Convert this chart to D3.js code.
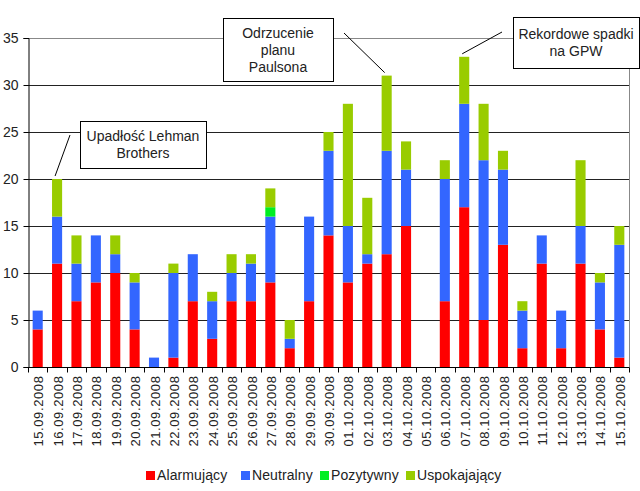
<!DOCTYPE html>
<html><head><meta charset="utf-8">
<script src="https://cdn.jsdelivr.net/npm/d3@7"></script>
<style>body{margin:0;background:#fff;} text{font-family:Arial,"Liberation Sans",sans-serif;}</style>
</head><body>
<svg id="c" width="640" height="491"></svg>
<script>
const dates = ["15.09.2008","16.09.2008","17.09.2008","18.09.2008","19.09.2008","20.09.2008","21.09.2008","22.09.2008","23.09.2008","24.09.2008","25.09.2008","26.09.2008","27.09.2008","28.09.2008","29.09.2008","30.09.2008","01.10.2008","02.10.2008","03.10.2008","04.10.2008","05.10.2008","06.10.2008","07.10.2008","08.10.2008","09.10.2008","10.10.2008","11.10.2008","12.10.2008","13.10.2008","14.10.2008","15.10.2008"];
const alarmujacy =    [4,11,7,9,10,4,0,1,7,3,7,7,9,2,7,14,9,11,12,15,0,7,17,5,13,2,11,2,11,4,1];
const neutralny =     [2,5,4,5,2,5,1,9,5,4,3,4,7,1,9,9,6,1,11,6,0,13,11,17,8,4,3,4,4,5,12];
const pozytywny =     [0,0,0,0,0,0,0,0,0,0,0,0,1,0,0,0,0,0,0,0,0,0,0,0,0,0,0,0,0,0,0];
const uspokajajacy =  [0,4,3,0,2,1,0,1,0,1,2,1,2,2,0,2,13,6,8,3,0,2,5,6,2,1,0,0,7,1,2];
const seriesNames = ["Alarmujący","Neutralny","Pozytywny","Uspokajający"];
const seriesColors = ["#ff0000","#3366ff","#00ee22","#99cc00"];
const yTicks = [0,5,10,15,20,25,30,35];
const annotations = [
  {lines:["Upadłość Lehman","Brothers"], date:"16.09.2008", value:20},
  {lines:["Odrzucenie","planu","Paulsona"], date:"03.10.2008", value:31},
  {lines:["Rekordowe spadki","na GPW"], date:"07.10.2008", value:33}
];

const svg = d3.select("#c");
const m = {l:28, t:38, r:629, b:367};
const x = d3.scaleBand().domain(dates).range([m.l, m.r]).paddingInner(0.48).paddingOuter(0.24);
const xb = d3.scaleBand().domain(dates).range([m.l, m.r]);
const y = d3.scaleLinear().domain([0,35]).range([m.b, m.t]);

// gridlines
svg.append("g").selectAll("line").data(yTicks.filter(d=>d>0 && d<35)).join("line")
  .attr("x1", m.l).attr("x2", m.r).attr("y1", d=>Math.round(y(d))+0.5).attr("y2", d=>Math.round(y(d))+0.5)
  .attr("stroke","#222").attr("stroke-width",1);
// frame top/right
svg.append("path").attr("d",`M${m.l},${Math.round(y(35))+0.5}H${m.r+0.5}V${m.b}`)
  .attr("fill","none").attr("stroke","#888");

// stacked bars
const rows = dates.map((d,i)=>({date:d, "Alarmujący":alarmujacy[i], "Neutralny":neutralny[i], "Pozytywny":pozytywny[i], "Uspokajający":uspokajajacy[i]}));
const stack = d3.stack().keys(seriesNames)(rows);
svg.append("g").selectAll("g").data(stack).join("g")
  .attr("fill",(d,i)=>seriesColors[i])
  .selectAll("rect").data(d=>d).join("rect")
  .attr("x", d=>x(d.data.date)).attr("width", x.bandwidth())
  .attr("y", d=>y(d[1])).attr("height", d=>y(d[0])-y(d[1]));

// y axis
const ya = svg.append("g").attr("transform",`translate(${m.l+0.5},0)`)
  .call(d3.axisLeft(y).tickValues(yTicks).tickSize(5).tickPadding(5));
ya.select(".domain").attr("stroke","#000");
ya.selectAll("text").attr("font-size",14).attr("fill","#222").attr("font-family","Arial, 'Liberation Sans', sans-serif");

// x axis
const xa = svg.append("g").attr("transform",`translate(0,${m.b+0.5})`);
xa.append("line").attr("x1",m.l).attr("x2",m.r+0.5).attr("stroke","#000");
xa.selectAll("line.t").data(d3.range(dates.length+1)).join("line").attr("class","t")
  .attr("x1",i=>Math.round(m.l + i*xb.step())+0.5).attr("x2",i=>Math.round(m.l + i*xb.step())+0.5)
  .attr("y1",0).attr("y2",5).attr("stroke","#000");
xa.selectAll("text").data(dates).join("text")
  .attr("transform", d=>`translate(${xb(d)+xb.bandwidth()/2+1},8) rotate(-90)`)
  .attr("text-anchor","end").attr("dy","0.35em")
  .attr("font-size",13).attr("letter-spacing","0.6px").attr("fill","#222").text(d=>d);

// annotations
const boxes = [
  {x:80, y:121, w:126, h:47, lx1:70, ly1:135},
  {x:223, y:18, w:110, h:63, lx1:344, ly1:33},
  {x:513, y:17, w:126, h:51, lx1:502, ly1:32}
];
annotations.forEach((a,i)=>{
  const b = boxes[i];
  const tx = xb(a.date)+xb.bandwidth()/2, ty = y(a.value)-3;
  svg.append("line").attr("x1",b.lx1).attr("y1",b.ly1).attr("x2",tx-2).attr("y2",ty)
    .attr("stroke","#000").attr("stroke-width",1);
  svg.append("rect").attr("x",b.x+0.5).attr("y",b.y+0.5).attr("width",b.w).attr("height",b.h)
    .attr("fill","#fff").attr("stroke","#000");
  const n = a.lines.length, lh = 17;
  const t0 = b.y + b.h/2 - (n-1)*lh/2 + 5;
  a.lines.forEach((l,j)=>{
    svg.append("text").attr("x",b.x+b.w/2).attr("y",t0+j*lh).attr("text-anchor","middle")
      .attr("font-size",14).attr("fill","#222").text(l);
  });
});

// legend
const legX = [146,241,320,406];
seriesNames.forEach((s,i)=>{
  svg.append("rect").attr("x",legX[i]).attr("y",471).attr("width",9).attr("height",9).attr("fill",seriesColors[i]);
  svg.append("text").attr("x",legX[i]+11).attr("y",480).attr("font-size",14).attr("letter-spacing","0.1px").attr("fill","#222").text(s);
});
</script>
</body></html>
